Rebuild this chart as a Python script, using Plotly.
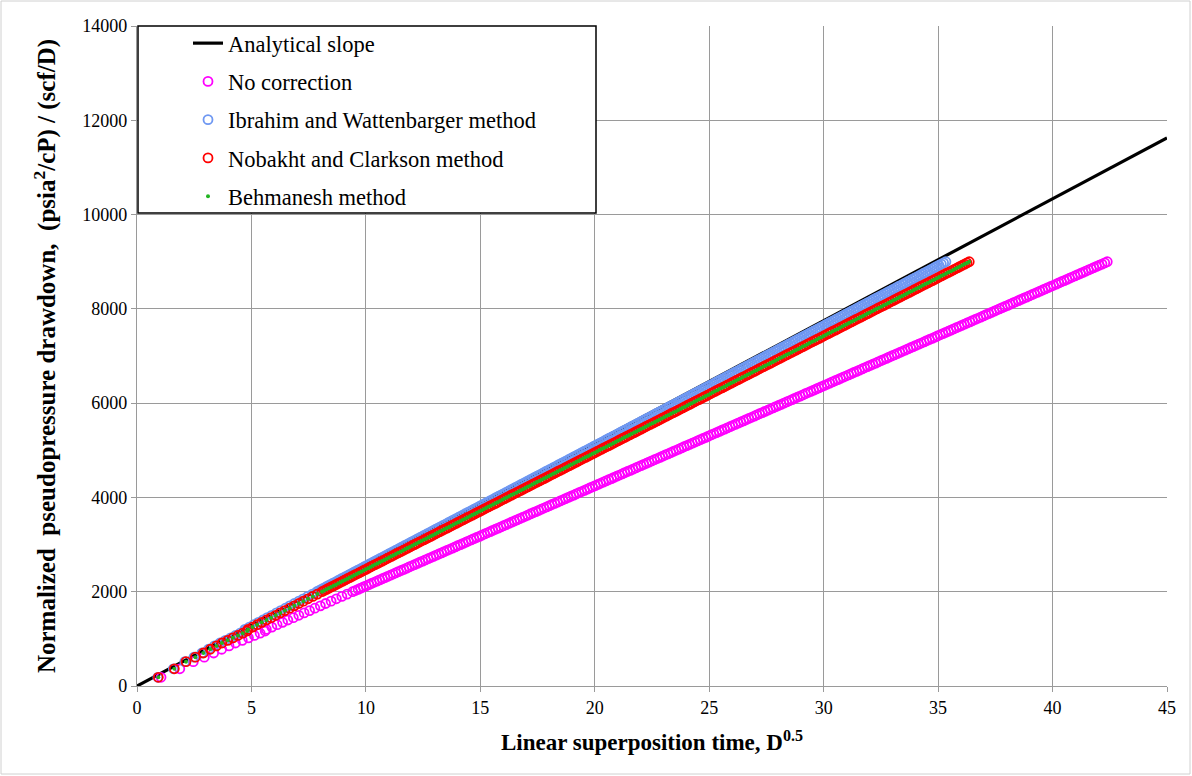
import plotly.graph_objects as go

# ---------------- data ----------------
analytical_x = [0, 45]
analytical_y = [0, 11625]

# normalized pseudopressure drawdown shared by all four data series
drawdown_y = [185, 365, 516, 612, 700, 780, 850, 912, 968, 1022, 1072, 1120, 1166,
    1200, 1250, 1300, 1350, 1400, 1450, 1500, 1550, 1600, 1650, 1700, 1750, 1800, 1850, 1900, 1950,
    2000, 2025, 2050, 2075, 2100, 2125, 2150, 2175, 2200, 2225, 2250, 2275, 2300, 2325, 2350, 2375, 2400, 2425, 2450, 2475,
    2500, 2525, 2550, 2575, 2600, 2625, 2650, 2675, 2700, 2725, 2750, 2775, 2800, 2825, 2850, 2875, 2900, 2925, 2950, 2975,
    3000, 3025, 3050, 3075, 3100, 3125, 3150, 3175, 3200, 3225, 3250, 3275, 3300, 3325, 3350, 3375, 3400, 3425, 3450, 3475,
    3500, 3525, 3550, 3575, 3600, 3625, 3650, 3675, 3700, 3725, 3750, 3775, 3800, 3825, 3850, 3875, 3900, 3925, 3950, 3975,
    4000, 4025, 4050, 4075, 4100, 4125, 4150, 4175, 4200, 4225, 4250, 4275, 4300, 4325, 4350, 4375, 4400, 4425, 4450, 4475,
    4500, 4525, 4550, 4575, 4600, 4625, 4650, 4675, 4700, 4725, 4750, 4775, 4800, 4825, 4850, 4875, 4900, 4925, 4950, 4975,
    5000, 5025, 5050, 5075, 5100, 5125, 5150, 5175, 5200, 5225, 5250, 5275, 5300, 5325, 5350, 5375, 5400, 5425, 5450, 5475,
    5500, 5525, 5550, 5575, 5600, 5625, 5650, 5675, 5700, 5725, 5750, 5775, 5800, 5825, 5850, 5875, 5900, 5925, 5950, 5975,
    6000, 6025, 6050, 6075, 6100, 6125, 6150, 6175, 6200, 6225, 6250, 6275, 6300, 6325, 6350, 6375, 6400, 6425, 6450, 6475,
    6500, 6525, 6550, 6575, 6600, 6625, 6650, 6675, 6700, 6725, 6750, 6775, 6800, 6825, 6850, 6875, 6900, 6925, 6950, 6975,
    7000, 7025, 7050, 7075, 7100, 7125, 7150, 7175, 7200, 7225, 7250, 7275, 7300, 7325, 7350, 7375, 7400, 7425, 7450, 7475,
    7500, 7525, 7550, 7575, 7600, 7625, 7650, 7675, 7700, 7725, 7750, 7775, 7800, 7825, 7850, 7875, 7900, 7925, 7950, 7975,
    8000, 8025, 8050, 8075, 8100, 8125, 8150, 8175, 8200, 8225, 8250, 8275, 8300, 8325, 8350, 8375, 8400, 8425, 8450, 8475,
    8500, 8525, 8550, 8575, 8600, 8625, 8650, 8675, 8700, 8725, 8750, 8775, 8800, 8825, 8850, 8875, 8900, 8925, 8950, 8975,
    9000]

x_no_correction = [1.05, 1.87, 2.46, 2.94, 3.35, 3.70, 4.02, 4.30, 4.60, 4.87, 5.13, 5.38, 5.60,
    5.65, 5.89, 6.12, 6.36, 6.59, 6.83, 7.07, 7.30, 7.54, 7.77, 8.01, 8.24, 8.48, 8.71, 8.95, 9.18,
    9.42, 9.54, 9.66, 9.77, 9.89, 10.01, 10.13, 10.24, 10.36, 10.48, 10.60, 10.72, 10.83, 10.95, 11.07, 11.19, 11.30, 11.42, 11.54, 11.66,
    11.78, 11.89, 12.01, 12.13, 12.25, 12.36, 12.48, 12.60, 12.72, 12.84, 12.95, 13.07, 13.19, 13.31, 13.42, 13.54, 13.66, 13.78, 13.90, 14.01,
    14.13, 14.25, 14.37, 14.48, 14.60, 14.72, 14.84, 14.96, 15.07, 15.19, 15.31, 15.43, 15.54, 15.66, 15.78, 15.90, 16.02, 16.13, 16.25, 16.37,
    16.49, 16.60, 16.72, 16.84, 16.96, 17.07, 17.19, 17.31, 17.43, 17.55, 17.66, 17.78, 17.90, 18.02, 18.13, 18.25, 18.37, 18.49, 18.61, 18.72,
    18.84, 18.96, 19.08, 19.19, 19.31, 19.43, 19.55, 19.67, 19.78, 19.90, 20.02, 20.14, 20.25, 20.37, 20.49, 20.61, 20.73, 20.84, 20.96, 21.08,
    21.20, 21.31, 21.43, 21.55, 21.67, 21.79, 21.90, 22.02, 22.14, 22.26, 22.37, 22.49, 22.61, 22.73, 22.85, 22.96, 23.08, 23.20, 23.32, 23.43,
    23.55, 23.67, 23.79, 23.90, 24.02, 24.14, 24.26, 24.38, 24.49, 24.61, 24.73, 24.85, 24.96, 25.08, 25.20, 25.32, 25.44, 25.55, 25.67, 25.79,
    25.91, 26.02, 26.14, 26.26, 26.38, 26.50, 26.61, 26.73, 26.85, 26.97, 27.08, 27.20, 27.32, 27.44, 27.56, 27.67, 27.79, 27.91, 28.03, 28.14,
    28.26, 28.38, 28.50, 28.62, 28.73, 28.85, 28.97, 29.09, 29.20, 29.32, 29.44, 29.56, 29.68, 29.79, 29.91, 30.03, 30.15, 30.26, 30.38, 30.50,
    30.62, 30.73, 30.85, 30.97, 31.09, 31.21, 31.32, 31.44, 31.56, 31.68, 31.79, 31.91, 32.03, 32.15, 32.27, 32.38, 32.50, 32.62, 32.74, 32.85,
    32.97, 33.09, 33.21, 33.33, 33.44, 33.56, 33.68, 33.80, 33.91, 34.03, 34.15, 34.27, 34.39, 34.50, 34.62, 34.74, 34.86, 34.97, 35.09, 35.21,
    35.33, 35.45, 35.56, 35.68, 35.80, 35.92, 36.03, 36.15, 36.27, 36.39, 36.50, 36.62, 36.74, 36.86, 36.98, 37.09, 37.21, 37.33, 37.45, 37.56,
    37.68, 37.80, 37.92, 38.04, 38.15, 38.27, 38.39, 38.51, 38.62, 38.74, 38.86, 38.98, 39.10, 39.21, 39.33, 39.45, 39.57, 39.68, 39.80, 39.92,
    40.04, 40.16, 40.27, 40.39, 40.51, 40.63, 40.74, 40.86, 40.98, 41.10, 41.22, 41.33, 41.45, 41.57, 41.69, 41.80, 41.92, 42.04, 42.16, 42.28,
    42.39]

x_ibrahim = [0.91, 1.59, 2.09, 2.49, 2.83, 3.12, 3.38, 3.62, 3.86, 4.09, 4.30, 4.50, 4.69,
    4.71, 4.91, 5.10, 5.30, 5.50, 5.69, 5.89, 6.09, 6.28, 6.48, 6.67, 6.87, 7.07, 7.26, 7.46, 7.66,
    7.85, 7.95, 8.05, 8.15, 8.25, 8.34, 8.44, 8.54, 8.64, 8.74, 8.83, 8.93, 9.03, 9.13, 9.23, 9.32, 9.42, 9.52, 9.62, 9.72,
    9.82, 9.91, 10.01, 10.11, 10.21, 10.31, 10.40, 10.50, 10.60, 10.70, 10.80, 10.90, 10.99, 11.09, 11.19, 11.29, 11.39, 11.48, 11.58, 11.68,
    11.78, 11.88, 11.97, 12.07, 12.17, 12.27, 12.37, 12.47, 12.56, 12.66, 12.76, 12.86, 12.96, 13.05, 13.15, 13.25, 13.35, 13.45, 13.55, 13.64,
    13.74, 13.84, 13.94, 14.04, 14.13, 14.23, 14.33, 14.43, 14.53, 14.63, 14.72, 14.82, 14.92, 15.02, 15.12, 15.21, 15.31, 15.41, 15.51, 15.61,
    15.70, 15.80, 15.90, 16.00, 16.10, 16.20, 16.29, 16.39, 16.49, 16.59, 16.69, 16.78, 16.88, 16.98, 17.08, 17.18, 17.28, 17.37, 17.47, 17.57,
    17.67, 17.77, 17.86, 17.96, 18.06, 18.16, 18.26, 18.36, 18.45, 18.55, 18.65, 18.75, 18.85, 18.94, 19.04, 19.14, 19.24, 19.34, 19.43, 19.53,
    19.63, 19.73, 19.83, 19.93, 20.02, 20.12, 20.22, 20.32, 20.42, 20.51, 20.61, 20.71, 20.81, 20.91, 21.01, 21.10, 21.20, 21.30, 21.40, 21.50,
    21.59, 21.69, 21.79, 21.89, 21.99, 22.08, 22.18, 22.28, 22.38, 22.48, 22.58, 22.67, 22.77, 22.87, 22.97, 23.07, 23.16, 23.26, 23.36, 23.46,
    23.56, 23.66, 23.75, 23.85, 23.95, 24.05, 24.15, 24.24, 24.34, 24.44, 24.54, 24.64, 24.74, 24.83, 24.93, 25.03, 25.13, 25.23, 25.32, 25.42,
    25.52, 25.62, 25.72, 25.81, 25.91, 26.01, 26.11, 26.21, 26.31, 26.40, 26.50, 26.60, 26.70, 26.80, 26.89, 26.99, 27.09, 27.19, 27.29, 27.39,
    27.48, 27.58, 27.68, 27.78, 27.88, 27.97, 28.07, 28.17, 28.27, 28.37, 28.46, 28.56, 28.66, 28.76, 28.86, 28.96, 29.05, 29.15, 29.25, 29.35,
    29.45, 29.54, 29.64, 29.74, 29.84, 29.94, 30.04, 30.13, 30.23, 30.33, 30.43, 30.53, 30.62, 30.72, 30.82, 30.92, 31.02, 31.12, 31.21, 31.31,
    31.41, 31.51, 31.61, 31.70, 31.80, 31.90, 32.00, 32.10, 32.19, 32.29, 32.39, 32.49, 32.59, 32.69, 32.78, 32.88, 32.98, 33.08, 33.18, 33.27,
    33.37, 33.47, 33.57, 33.67, 33.77, 33.86, 33.96, 34.06, 34.16, 34.26, 34.35, 34.45, 34.55, 34.65, 34.75, 34.84, 34.94, 35.04, 35.14, 35.24,
    35.34]

x_nobakht = [0.93, 1.63, 2.14, 2.55, 2.90, 3.20, 3.47, 3.71, 3.96, 4.19, 4.41, 4.62, 4.81,
    4.85, 5.05, 5.25, 5.45, 5.66, 5.86, 6.06, 6.26, 6.46, 6.67, 6.87, 7.07, 7.27, 7.47, 7.68, 7.88,
    8.08, 8.18, 8.28, 8.38, 8.48, 8.59, 8.69, 8.79, 8.89, 8.99, 9.09, 9.19, 9.29, 9.39, 9.49, 9.60, 9.70, 9.80, 9.90, 10.00,
    10.10, 10.20, 10.30, 10.40, 10.51, 10.61, 10.71, 10.81, 10.91, 11.01, 11.11, 11.21, 11.31, 11.41, 11.52, 11.62, 11.72, 11.82, 11.92, 12.02,
    12.12, 12.22, 12.32, 12.42, 12.53, 12.63, 12.73, 12.83, 12.93, 13.03, 13.13, 13.23, 13.33, 13.43, 13.54, 13.64, 13.74, 13.84, 13.94, 14.04,
    14.14, 14.24, 14.34, 14.44, 14.55, 14.65, 14.75, 14.85, 14.95, 15.05, 15.15, 15.25, 15.35, 15.45, 15.56, 15.66, 15.76, 15.86, 15.96, 16.06,
    16.16, 16.26, 16.36, 16.46, 16.57, 16.67, 16.77, 16.87, 16.97, 17.07, 17.17, 17.27, 17.37, 17.47, 17.58, 17.68, 17.78, 17.88, 17.98, 18.08,
    18.18, 18.28, 18.38, 18.48, 18.59, 18.69, 18.79, 18.89, 18.99, 19.09, 19.19, 19.29, 19.39, 19.49, 19.60, 19.70, 19.80, 19.90, 20.00, 20.10,
    20.20, 20.30, 20.40, 20.51, 20.61, 20.71, 20.81, 20.91, 21.01, 21.11, 21.21, 21.31, 21.41, 21.52, 21.62, 21.72, 21.82, 21.92, 22.02, 22.12,
    22.22, 22.32, 22.42, 22.53, 22.63, 22.73, 22.83, 22.93, 23.03, 23.13, 23.23, 23.33, 23.43, 23.54, 23.64, 23.74, 23.84, 23.94, 24.04, 24.14,
    24.24, 24.34, 24.44, 24.55, 24.65, 24.75, 24.85, 24.95, 25.05, 25.15, 25.25, 25.35, 25.45, 25.56, 25.66, 25.76, 25.86, 25.96, 26.06, 26.16,
    26.26, 26.36, 26.46, 26.57, 26.67, 26.77, 26.87, 26.97, 27.07, 27.17, 27.27, 27.37, 27.47, 27.58, 27.68, 27.78, 27.88, 27.98, 28.08, 28.18,
    28.28, 28.38, 28.48, 28.59, 28.69, 28.79, 28.89, 28.99, 29.09, 29.19, 29.29, 29.39, 29.49, 29.60, 29.70, 29.80, 29.90, 30.00, 30.10, 30.20,
    30.30, 30.40, 30.51, 30.61, 30.71, 30.81, 30.91, 31.01, 31.11, 31.21, 31.31, 31.41, 31.52, 31.62, 31.72, 31.82, 31.92, 32.02, 32.12, 32.22,
    32.32, 32.42, 32.53, 32.63, 32.73, 32.83, 32.93, 33.03, 33.13, 33.23, 33.33, 33.43, 33.54, 33.64, 33.74, 33.84, 33.94, 34.04, 34.14, 34.24,
    34.34, 34.44, 34.55, 34.65, 34.75, 34.85, 34.95, 35.05, 35.15, 35.25, 35.35, 35.45, 35.56, 35.66, 35.76, 35.86, 35.96, 36.06, 36.16, 36.26,
    36.36]

# Behmanesh points sit on the centres of the Nobakht circles in the picture
x_behmanesh = list(x_nobakht)

series_names = ["Analytical slope", "No correction", "Ibrahim and Wattenbarger method",
                "Nobakht and Clarkson method", "Behmanesh method"]

x_ticks = [0, 5, 10, 15, 20, 25, 30, 35, 40, 45]
y_ticks = [0, 2000, 4000, 6000, 8000, 10000, 12000, 14000]

# ---------------- figure ----------------
FONT = "Liberation Serif, Times New Roman, serif"
W, H = 1192, 776
ML, MR, MT, MB = 137, 25, 26, 90
PW, PH = W - ML - MR, H - MT - MB

fig = go.Figure()
fig.add_trace(go.Scatter(x=analytical_x, y=analytical_y, mode="lines", name=series_names[0],
                         line=dict(color="black", width=3.2), legendgroup="a"))
fig.add_trace(go.Scatter(x=x_no_correction, y=drawdown_y, mode="markers", name=series_names[1],
                         marker=dict(symbol="circle-open", size=9, color="#FF00FF",
                                     line=dict(width=1.8, color="#FF00FF")), legendgroup="b"))
fig.add_trace(go.Scatter(x=x_ibrahim, y=drawdown_y, mode="markers", name=series_names[2],
                         marker=dict(symbol="circle-open", size=9, color="#6F98F2",
                                     line=dict(width=1.8, color="#6F98F2")), legendgroup="c"))
fig.add_trace(go.Scatter(x=x_nobakht, y=drawdown_y, mode="markers", name=series_names[3],
                         marker=dict(symbol="circle-open", size=9, color="#FF0000",
                                     line=dict(width=1.8, color="#FF0000")), legendgroup="d"))
fig.add_trace(go.Scatter(x=x_behmanesh, y=drawdown_y, mode="markers", name=series_names[4],
                         marker=dict(symbol="circle", size=4, color="#22B422",
                                     line=dict(width=0)), legendgroup="e"))

def px_x(p):
    return (p - ML) / PW

def px_y(p):
    return (H - MB - p) / PH

shapes = [
    # outer chart border
    dict(type="rect", xref="paper", yref="paper", x0=px_x(1), x1=px_x(W - 2), y0=px_y(H - 2), y1=px_y(1),
         line=dict(color="#d0d0d0", width=1), fillcolor="rgba(0,0,0,0)", layer="below"),
    # legend box
    dict(type="rect", xref="paper", yref="paper", x0=px_x(138), x1=px_x(596), y0=px_y(213), y1=px_y(26),
         line=dict(color="black", width=1.5), fillcolor="white", layer="above"),
]

axis_common = dict(showgrid=True, gridcolor="#9a9a9a", gridwidth=1.2, zeroline=False,
                   showline=True, linecolor="#9a9a9a", linewidth=1.2,
                   ticks="outside", ticklen=5, tickcolor="#9a9a9a", tickwidth=1.2,
                   tickfont=dict(family=FONT, size=18, color="black"))

fig.update_layout(
    width=W, height=H,
    margin=dict(l=ML, r=MR, t=MT, b=MB),
    paper_bgcolor="white", plot_bgcolor="white",
    font=dict(family=FONT, color="black"),
    showlegend=True,
    legend=dict(x=px_x(188), y=px_y(22), xanchor="left", yanchor="top",
                bgcolor="rgba(0,0,0,0)", borderwidth=0,
                font=dict(family=FONT, size=22.5, color="black"),
                tracegroupgap=6, itemwidth=30),
    xaxis=dict(range=[0, 45], tickvals=x_ticks, ticktext=[str(v) for v in x_ticks],
               title=dict(text="<b>Linear superposition time, D<sup>0.5</sup></b>",
                          font=dict(family=FONT, size=23), standoff=17),
               **axis_common),
    yaxis=dict(range=[0, 14000], tickvals=y_ticks, ticktext=[str(v) for v in y_ticks],
               title=dict(text="<b>Normalized\u00a0 pseudopressure drawdown,\u00a0 (psia<sup>2</sup>/cP) / (scf/D)</b>",
                          font=dict(family=FONT, size=25), standoff=19),
               **axis_common),
    shapes=shapes,
)

fig.write_html("out.html")
